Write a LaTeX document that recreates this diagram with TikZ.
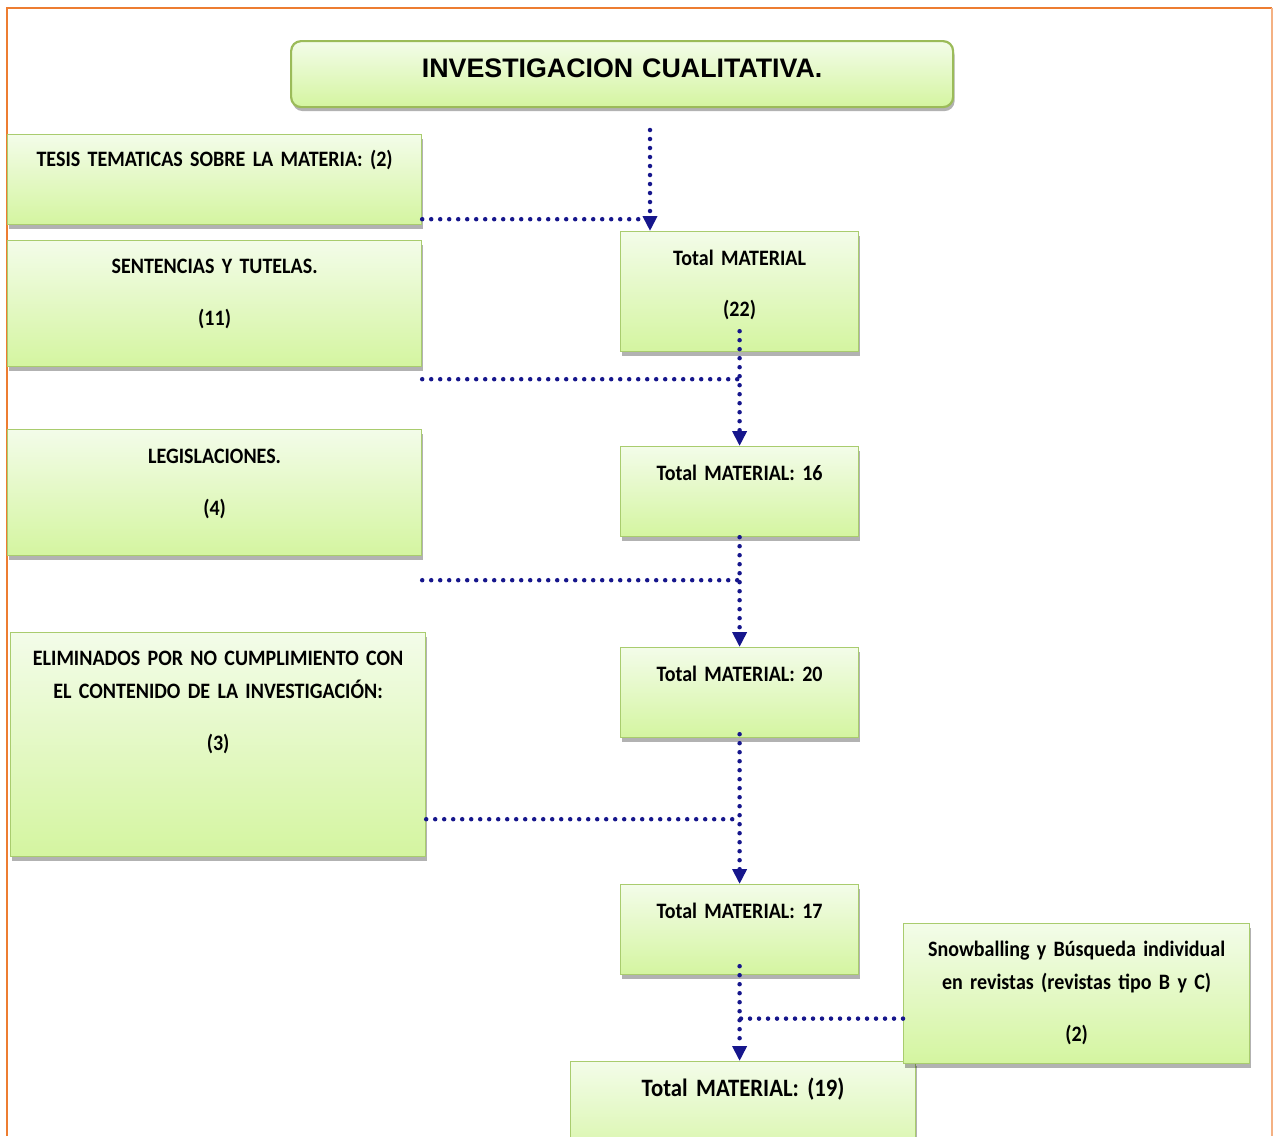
\documentclass[tikz,border=0pt]{standalone}
\usepackage{fontspec}
\setmainfont[FakeStretch=0.91]{Carlito}
\newfontfamily\titlefont{Liberation Sans}
\usetikzlibrary{positioning, calc, arrows.meta, shadows}

\definecolor{boxtop}{HTML}{F3FCE9}
\definecolor{boxbot}{HTML}{D4F5A0}
\definecolor{boxline}{HTML}{A9CC6E}
\definecolor{titleline}{HTML}{9BBB59}
\definecolor{dotblue}{RGB}{22,22,140}
\definecolor{frameor}{HTML}{ED7D31}

\tikzstyle{Dots} = [
    draw=dotblue,
    line width=4.5pt,
    line cap=round,
    dash pattern=on 0pt off 9pt
]
\tikzstyle{Flow} = [Dots, -{Triangle[length=15pt, width=14pt]}]

\begin{document}
\begin{tikzpicture}[x=1pt, y=-1pt,
box/.style={
    rectangle,
    draw=boxline,
    line width=1.2pt,
    top color=boxtop,
    bottom color=boxbot,
    anchor=north west,
    inner sep=0pt,
    drop shadow={shadow xshift=1.5pt, shadow yshift=-4pt, fill=black, opacity=.3}
    },
titlebox/.style={
    box,
    draw=titleline,
    line width=2.2pt,
    rounded corners=10pt
    },
txt/.style={
    text width=440pt,
    align=center,
    anchor=base,
    inner sep=0pt,
    font=\fontsize{22}{33}\selectfont\bfseries
    }
]

\useasboundingbox (0,0) rectangle (1273,1136);

% page frame
\draw[frameor, line width=2pt] (7,1136) -- (7,8) -- (1272,8);
\draw[frameor!60, line width=2pt] (1272,8) -- (1272,1136);

% boxes
\node[titlebox, minimum width=662pt, minimum height=66pt] (title) at (290,40) {};
\node[box, minimum width=414pt, minimum height=90pt] (tesis) at (7,134) {};
\node[box, minimum width=414pt, minimum height=126pt] (sent) at (7,240) {};
\node[box, minimum width=414pt, minimum height=126pt] (legis) at (7,429) {};
\node[box, minimum width=415pt, minimum height=224pt] (elim) at (10,632) {};
\node[box, minimum width=238pt, minimum height=120pt] (tot1) at (620,231) {};
\node[box, minimum width=238pt, minimum height=90pt] (tot2) at (620,446) {};
\node[box, minimum width=238pt, minimum height=90pt] (tot3) at (620,647) {};
\node[box, minimum width=238pt, minimum height=90pt] (tot4) at (620,884) {};
\node[box, minimum width=345pt, minimum height=110pt] (tot5) at (570,1061) {};
\node[box, minimum width=346pt, minimum height=140pt] (snow) at (903,923) {};

% texts
\node[txt, font=\fontsize{26.8}{30}\selectfont\titlefont\bfseries] (titleT) at ([yshift=-37pt]title.north) {INVESTIGACION CUALITATIVA.};
\node[txt] (tesisT) at ([yshift=-32pt]tesis.north) {TESIS TEMATICAS SOBRE LA MATERIA: (2)};
\node[txt] (sentT) at ([yshift=-33pt]sent.north) {SENTENCIAS Y TUTELAS.\\[19pt] (11)};
\node[txt] (legisT) at ([yshift=-34pt]legis.north) {LEGISLACIONES.\\[19pt] (4)};
\node[txt] (elimT) at ([yshift=-33pt]elim.north) {ELIMINADOS POR NO CUMPLIMIENTO CON\\ EL CONTENIDO DE LA INVESTIGACIÓN:\\[19pt] (3)};
\node[txt] (tot1T) at ([yshift=-34pt]tot1.north) {Total MATERIAL\\[18pt] (22)};
\node[txt] (tot2T) at ([yshift=-34pt]tot2.north) {Total MATERIAL: 16};
\node[txt] (tot3T) at ([yshift=-34pt]tot3.north) {Total MATERIAL: 20};
\node[txt] (tot4T) at ([yshift=-34pt]tot4.north) {Total MATERIAL: 17};
\node[txt, font=\fontsize{25}{30}\selectfont\bfseries] (tot5T) at ([yshift=-35pt]tot5.north) {Total MATERIAL: (19)};
\node[txt] (snowT) at ([yshift=-33pt]snow.north) {Snowballing y Búsqueda individual\\ en revistas (revistas tipo B y C)\\[19pt] (2)};

% connectors
\coordinate (c0) at (650,130);
\coordinate (h0) at ([yshift=6pt]tesis.south east);
\draw[Flow] (c0) -- (tot1.north -| c0);
\draw[Dots] (h0) -- (h0 -| c0);

\coordinate (s1) at ([yshift=21pt]tot1.south);
\coordinate (h1) at ([yshift=-12pt]sent.south east);
\draw[Flow] (s1) -- (tot2.north);
\draw[Dots] (h1) -- (h1 -| s1);

\coordinate (h2) at ([yshift=-24pt]legis.south east);
\draw[Flow] (tot2.south) -- (tot3.north);
\draw[Dots] (h2) -- (h2 -| tot2.south);

\coordinate (s3) at ([yshift=4pt]tot3.south);
\coordinate (h3) at ([yshift=38pt]elim.south east);
\draw[Flow] (s3) -- (tot4.north);
\draw[Dots] (h3) -- (h3 -| s3);

\coordinate (s4) at ([yshift=9pt]tot4.south);
\coordinate (h4) at ([yshift=-25pt]snow.west);
\draw[Flow] (s4) -- (s4 |- tot5.north);
\draw[Dots] (h4) -- (h4 -| s4);

\end{tikzpicture}
\end{document}
